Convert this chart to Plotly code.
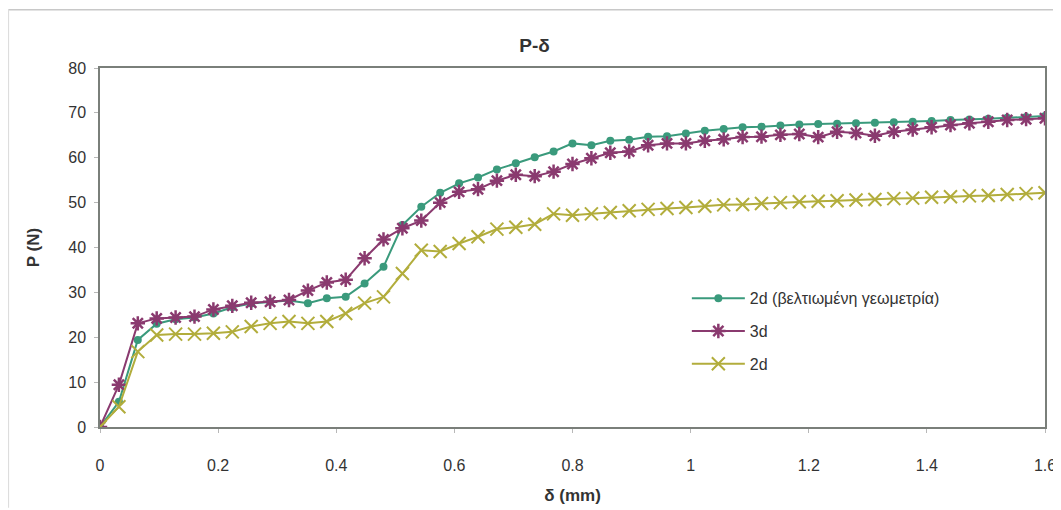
import plotly.graph_objects as go

delta_mm = [0, 0.032, 0.064, 0.096, 0.128, 0.16, 0.192, 0.224, 0.256, 0.288,
            0.32, 0.352, 0.384, 0.416, 0.448, 0.48, 0.512, 0.544, 0.576, 0.608,
            0.64, 0.672, 0.704, 0.736, 0.768, 0.8, 0.832, 0.864, 0.896, 0.928,
            0.96, 0.992, 1.024, 1.056, 1.088, 1.12, 1.152, 1.184, 1.216, 1.248,
            1.28, 1.312, 1.344, 1.376, 1.408, 1.44, 1.472, 1.504, 1.536, 1.568, 1.6]

p_2d_improved = [0, 5.6, 19.4, 23.0, 24.0, 24.4, 25.3, 26.7, 27.5, 27.9,
                 28.2, 27.6, 28.7, 29.0, 32.0, 35.7, 45.0, 49.1, 52.2, 54.3,
                 55.6, 57.4, 58.8, 60.1, 61.4, 63.2, 62.8, 63.8, 64.0, 64.7,
                 64.8, 65.4, 66.0, 66.4, 66.8, 66.9, 67.2, 67.4, 67.5, 67.6,
                 67.7, 67.8, 67.9, 68.0, 68.2, 68.4, 68.5, 68.7, 68.9, 69.1, 69.3]

p_3d = [0, 9.4, 23.1, 24.2, 24.4, 24.6, 26.2, 27.0, 27.7, 27.9,
        28.3, 30.4, 32.2, 32.8, 37.6, 41.8, 44.3, 46.0, 50.0, 52.4,
        53.0, 54.9, 56.2, 55.9, 56.9, 58.6, 59.9, 61.1, 61.4, 62.8,
        63.2, 63.2, 63.8, 64.1, 64.6, 64.7, 65.1, 65.3, 64.6, 65.8,
        65.5, 64.9, 65.8, 66.3, 66.8, 67.3, 67.7, 68.0, 68.4, 68.6, 68.8]

p_2d = [0, 4.5, 16.8, 20.5, 20.7, 20.7, 20.9, 21.2, 22.4, 23.1,
        23.5, 23.1, 23.5, 25.3, 27.6, 29.0, 34.2, 39.4, 39.1, 40.9,
        42.4, 44.1, 44.5, 45.2, 47.5, 47.2, 47.5, 47.8, 48.2, 48.5,
        48.7, 48.9, 49.2, 49.5, 49.6, 49.8, 50.0, 50.2, 50.3, 50.4,
        50.6, 50.7, 50.9, 51.0, 51.2, 51.3, 51.5, 51.6, 51.8, 52.0, 52.2]

series_names = ["2d (βελτιωμένη γεωμετρία)", "3d", "2d"]
x_ticks = [0, 0.2, 0.4, 0.6, 0.8, 1, 1.2, 1.4, 1.6]
x_tick_text = ["0", "0.2", "0.4", "0.6", "0.8", "1", "1.2", "1.4", "1.6"]

FONT = "Liberation Sans, Arial, sans-serif"
c_green = "#3a9a7c"
c_purple = "#8a3a6f"
c_yellow = "#b2ad3c"

fig = go.Figure()
fig.add_trace(go.Scatter(
    x=delta_mm, y=p_2d_improved, name=series_names[0], mode="lines+markers",
    legendgroup="g1",
    line=dict(color=c_green, width=2),
    marker=dict(symbol="circle", size=8, color=c_green)))
fig.add_trace(go.Scatter(
    x=delta_mm, y=p_3d, name=series_names[1], mode="lines+markers",
    legendgroup="g2",
    line=dict(color=c_purple, width=2),
    marker=dict(symbol="asterisk-open", size=12, color=c_purple,
                line=dict(color=c_purple, width=2.5))))
fig.add_trace(go.Scatter(
    x=delta_mm, y=p_2d, name=series_names[2], mode="lines+markers",
    legendgroup="g3",
    line=dict(color=c_yellow, width=2),
    marker=dict(symbol="x-thin-open", size=13, color=c_yellow,
                line=dict(color=c_yellow, width=2))))

fig.update_layout(
    width=1053, height=502,
    margin=dict(l=92, r=16, t=60, b=83),
    paper_bgcolor="white", plot_bgcolor="white",
    font=dict(family=FONT, size=16, color="#333333"),
    title=dict(text="<b>P-δ</b>", x=0.5, xanchor="center", y=0.926, yanchor="middle",
               font=dict(family=FONT, size=19, color="#333333")),
    showlegend=True,
    legend=dict(x=0.621, y=0.406, xanchor="left", yanchor="top",
                bgcolor="rgba(0,0,0,0)", borderwidth=0,
                font=dict(family=FONT, size=16, color="#333333"),
                tracegroupgap=9, itemwidth=53),
    xaxis=dict(range=[0, 1.6], tickvals=x_ticks, ticktext=x_tick_text, automargin=False,
               showgrid=False, zeroline=False, showline=True, linecolor="#7a7f7a",
               linewidth=1.5, mirror=True, ticks="outside", ticklen=4, tickcolor="#b8b8b8",
               ticklabelstandoff=19,
               title=dict(text="<b>δ (mm)</b>", standoff=16, font=dict(size=17))),
    yaxis=dict(range=[0, 80], dtick=10, showgrid=False, zeroline=False, showline=True,
               automargin=False,
               linecolor="#7a7f7a", linewidth=1.5, mirror=True, ticks="outside", ticklen=4,
               tickcolor="#b8b8b8", ticklabelstandoff=5,
               title=dict(text="<b>P (N)</b>", standoff=24, font=dict(size=17))),
)

fig.add_shape(type="line", xref="paper", yref="paper", x0=-0.097, x1=1.02, y0=1.162, y1=1.162,
              line=dict(color="#c8c8c8", width=1.5))
fig.add_shape(type="line", xref="paper", yref="paper", x0=-0.097, x1=-0.097, y0=1.162, y1=-0.225,
              line=dict(color="#dddddd", width=1.5))

fig.write_html("out.html")
